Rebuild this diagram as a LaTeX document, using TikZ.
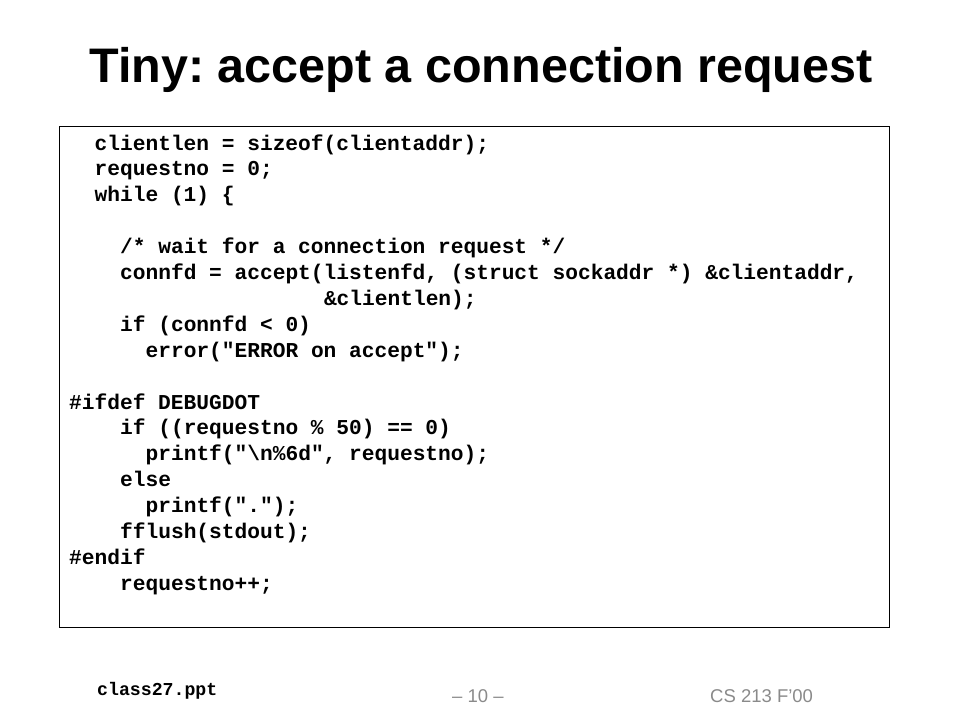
\documentclass[tikz,border=0pt]{standalone}
\usepackage{fontspec}
\setmainfont{Liberation Sans}
\newfontfamily\codefont{Liberation Mono}
\frenchspacing
\definecolor{footgray}{HTML}{8A8A8A}
\tikzset{
  codeline/.style={anchor=base west, inner sep=0pt, font=\codefont\bfseries\fontsize{21.2}{25}\selectfont},
  titletext/.style={anchor=base, inner sep=0pt, font=\bfseries\fontsize{48.5}{56}\selectfont},
  foottext/.style={anchor=base west, inner sep=0pt, text=footgray, font=\fontsize{18.5}{22}\selectfont},
  footcode/.style={anchor=base west, inner sep=0pt, font=\codefont\bfseries\fontsize{18.2}{22}\selectfont},
  codebox/.style={draw=black, line width=1pt}
}
\begin{document}
\begin{tikzpicture}[x=1pt,y=-1pt]
\useasboundingbox (0,0) rectangle (960,720);
\node[titletext] (title) at (481,82) {Tiny: accept a connection request};
\draw[codebox] (59,126) rectangle (889,627);
\def\cw{12.74}
\def\lh{25.9}
\node[codeline] (l1) at (69+2*\cw,150) {clientlen = sizeof(clientaddr);};
\node[codeline] (l2) at (69+2*\cw,150+1*\lh) {requestno = 0;};
\node[codeline] (l3) at (69+2*\cw,150+2*\lh) {while (1) \{};
\node[codeline] (l5) at (69+4*\cw,150+4*\lh) {/* wait for a connection request */};
\node[codeline] (l6) at (69+4*\cw,150+5*\lh) {connfd = accept(listenfd, (struct sockaddr *) \&clientaddr,};
\node[codeline] (l7) at (69+20*\cw,150+6*\lh) {\&clientlen);};
\node[codeline] (l8) at (69+4*\cw,150+7*\lh) {if (connfd < 0)};
\node[codeline] (l9) at (69+6*\cw,150+8*\lh) {error("ERROR on accept");};
\node[codeline] (l11) at (69,150+10*\lh) {\#ifdef DEBUGDOT};
\node[codeline] (l12) at (69+4*\cw,150+11*\lh) {if ((requestno \% 50) == 0)};
\node[codeline] (l13) at (69+6*\cw,150+12*\lh) {printf("\textbackslash n\%6d", requestno);};
\node[codeline] (l14) at (69+4*\cw,150+13*\lh) {else};
\node[codeline] (l15) at (69+6*\cw,150+14*\lh) {printf(".");};
\node[codeline] (l16) at (69+4*\cw,150+15*\lh) {fflush(stdout);};
\node[codeline] (l17) at (69,150+16*\lh) {\#endif};
\node[codeline] (l18) at (69+4*\cw,150+17*\lh) {requestno++;};
\node[footcode] (fname) at (97,695) {class27.ppt};
\node[foottext] (page) at (452,702) {– 10 –};
\node[foottext] (course) at (710,702) {CS 213 F’00};
\end{tikzpicture}
\end{document}
